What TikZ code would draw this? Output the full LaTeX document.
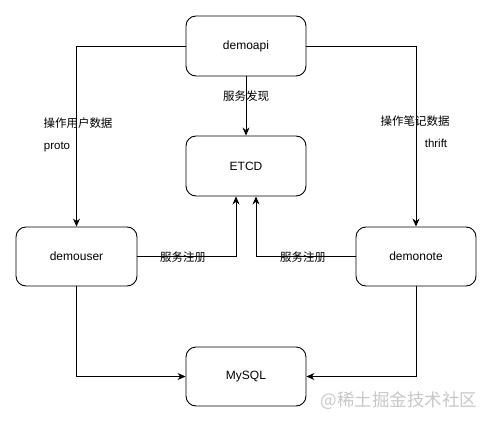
\documentclass[tikz,border=0pt]{standalone}
\usepackage{fontspec}
\setmainfont{Liberation Sans}
\newfontfamily\cjk{Noto Sans CJK SC}
\usetikzlibrary{arrows.meta}
\begin{document}
\begin{tikzpicture}[x=1pt,y=-1pt,
  box/.style={draw,line width=0.9pt,rounded corners=10pt,minimum width=120pt,minimum height=60pt,font=\fontsize{12}{14}\selectfont,inner sep=0pt},
  conn/.style={line width=0.9pt,-{Stealth[length=8pt,width=7pt]}},
  lbl/.style={font=\cjk\fontsize{11.5}{13}\selectfont,inner sep=0pt},
  lat/.style={font=\fontsize{11.5}{13}\selectfont,inner sep=0pt}]
\useasboundingbox (0,0) rectangle (493,423);
\node[box] (api) at (246,46) {demoapi};
\node[box] (etcd) at (246,166) {ETCD};
\node[box, minimum width=121pt, minimum height=59pt] (user) at (76.5,256.5) {demouser};
\node[box, minimum height=59pt] (note) at (416,256.5) {demonote};
\node[box, minimum height=59pt] (sql) at (246,376.5) {MySQL};
\draw[conn] (api.west) -| (user.north);
\draw[conn] (api.east) -| (note.north);
\draw[conn] (api.south) -- (etcd.north);
\draw[conn] (user.east) -| ([xshift=-10pt]etcd.south);
\draw[conn] (note.west) -| ([xshift=10pt]etcd.south);
\draw[conn] (user.south) |- (sql.west);
\draw[conn] (note.south) |- (sql.east);
\node[lbl] (l1) at (246,96) {服务发现};
\node[lbl] (l2) at (183,257) {服务注册};
\node[lbl] (l3) at (303,257) {服务注册};
\node[lbl] (l4) at (78,123) {操作用户数据};
\node[lat] (l5) at (57,147) {proto};
\node[lbl] (l6) at (415,121) {操作笔记数据};
\node[lat] (l7) at (436,143) {thrift};
\node[font=\cjk\fontsize{17.5}{19}\selectfont, text=black!22, inner sep=0pt] (wm) at (399,401) {@稀土掘金技术社区};
\end{tikzpicture}
\end{document}
